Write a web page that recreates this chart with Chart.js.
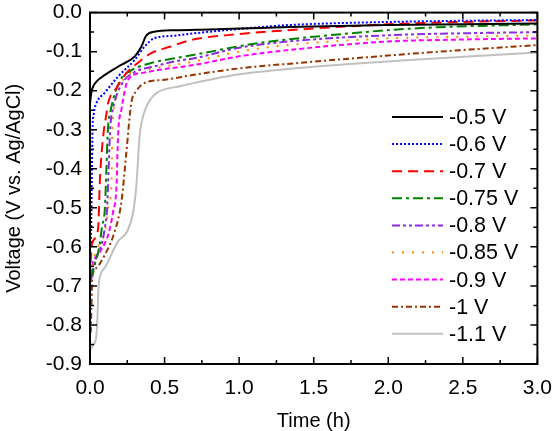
<!DOCTYPE html>
<html>
<head>
<meta charset="utf-8">
<script src="https://cdn.jsdelivr.net/npm/chart.js@4.4.1/dist/chart.umd.min.js"></script>
<style>
  html, body { margin: 0; padding: 0; background: #fff; }
  #wrap { width: 556px; height: 431px; }
</style>
</head>
<body>
<div id="wrap"><canvas id="voltChart"></canvas></div>
<script>
// series names (applied potential)
const seriesLabels = ['-0.5 V', '-0.6 V', '-0.7 V', '-0.75 V', '-0.8 V', '-0.85 V', '-0.9 V', '-1 V', '-1.1 V'];

// time (h) / voltage (V vs. Ag/AgCl)
const t05 = [0, 0.005, 0.015, 0.04, 0.08, 0.19, 0.3, 0.345, 0.375, 0.43, 0.57, 0.8, 1.0, 1.33, 2.0, 2.5, 3.0];
const v05 = [-0.235, -0.215, -0.195, -0.178, -0.165, -0.138, -0.112, -0.087, -0.06, -0.049, -0.045, -0.043, -0.041, -0.037, -0.032, -0.03, -0.028];

const t06 = [0.006, 0.01, 0.013, 0.017, 0.025, 0.04, 0.1, 0.19, 0.3, 0.366, 0.43, 0.57, 0.7, 1.0, 1.33, 2.0, 2.5, 3.0];
const v06 = [-0.59, -0.5, -0.4, -0.3, -0.26, -0.235, -0.205, -0.163, -0.121, -0.087, -0.066, -0.059, -0.053, -0.042, -0.032, -0.024, -0.021, -0.019];

const t07 = [0.004, 0.011, 0.03, 0.055, 0.067, 0.089, 0.11, 0.122, 0.178, 0.244, 0.32, 0.41, 0.54, 0.68, 1.0, 1.33, 2.0, 2.5, 3.0];
const v07 = [-0.64, -0.6, -0.58, -0.55, -0.425, -0.315, -0.26, -0.231, -0.193, -0.155, -0.129, -0.104, -0.087, -0.07, -0.055, -0.045, -0.03, -0.024, -0.02];

const t075 = [0.004, 0.033, 0.065, 0.08, 0.1, 0.11, 0.12, 0.14, 0.2, 0.277, 0.41, 0.566, 0.7, 1.11, 1.55, 2.2, 3.0];
const v075 = [-0.68, -0.644, -0.594, -0.55, -0.5, -0.4, -0.3, -0.248, -0.175, -0.148, -0.129, -0.117, -0.108, -0.079, -0.06, -0.04, -0.03];

const t08 = [0.004, 0.04, 0.08, 0.1, 0.115, 0.125, 0.135, 0.155, 0.21, 0.3, 0.43, 0.566, 0.7, 1.0, 1.33, 2.0, 2.5, 3.0];
const v08 = [-0.69, -0.63, -0.59, -0.55, -0.5, -0.4, -0.3, -0.245, -0.185, -0.152, -0.138, -0.125, -0.117, -0.09, -0.074, -0.058, -0.053, -0.05];

const t085 = [0.004, 0.033, 0.085, 0.11, 0.125, 0.144, 0.15, 0.165, 0.255, 0.366, 0.5, 0.7, 1.0, 1.33, 2.0, 2.5, 3.0];
const v085 = [-0.7, -0.62, -0.58, -0.54, -0.49, -0.44, -0.3, -0.24, -0.159, -0.146, -0.138, -0.125, -0.1, -0.083, -0.066, -0.062, -0.058];

const t09 = [0.003, 0.011, 0.055, 0.1, 0.122, 0.155, 0.178, 0.188, 0.211, 0.255, 0.344, 0.477, 0.7, 1.0, 1.33, 2.0, 2.5, 3.0];
const v09 = [-0.69, -0.654, -0.62, -0.59, -0.569, -0.51, -0.442, -0.315, -0.248, -0.172, -0.155, -0.146, -0.134, -0.112, -0.096, -0.074, -0.069, -0.066];

const t10 = [0.005, 0.01, 0.015, 0.04, 0.1, 0.166, 0.211, 0.244, 0.277, 0.311, 0.366, 0.5, 0.7, 1.0, 1.4, 2.2, 3.0];
const v10 = [-0.82, -0.75, -0.68, -0.655, -0.62, -0.56, -0.484, -0.357, -0.231, -0.201, -0.18, -0.172, -0.159, -0.143, -0.129, -0.104, -0.083];

const t11 = [0.003, 0.015, 0.04, 0.05, 0.055, 0.06, 0.1, 0.188, 0.25, 0.29, 0.311, 0.333, 0.36, 0.4, 0.45, 0.61, 0.7, 1.0, 1.4, 2.2, 3.0];
const v11 = [-0.865, -0.855, -0.835, -0.78, -0.72, -0.69, -0.653, -0.586, -0.56, -0.51, -0.442, -0.315, -0.26, -0.225, -0.205, -0.188, -0.18, -0.158, -0.142, -0.12, -0.102];

const times = [t05, t06, t07, t075, t08, t085, t09, t10, t11];
const volts = [v05, v06, v07, v075, v08, v085, v09, v10, v11];

const colors = ['#000000', '#0000ff', '#ff0000', '#008000', '#8a2be2', '#ff8c00', '#ff00ff', '#993300', '#c0c0c0'];
const dashes = [[], [2, 2], [10, 6], [10, 4, 3, 4], [8, 3, 3, 3, 3, 3], [2, 8], [5, 3], [6, 3, 2, 3], []];

const FONT = 'Liberation Sans, Arial, sans-serif';

const datasets = seriesLabels.map((label, i) => ({
    label: label,
    data: times[i].map((t, k) => ({ x: t, y: volts[i][k] })),
    borderColor: colors[i],
    backgroundColor: colors[i],
    borderDash: dashes[i],
    borderWidth: 2,
    pointRadius: 0,
    cubicInterpolationMode: 'monotone',
    fill: false
}));

// frame with inward ticks on all four sides + legend inside plot
const framePlugin = {
    id: 'frame',
    afterDraw(chart) {
        const ctx = chart.ctx;
        const a = chart.chartArea;
        const xs = chart.scales.x, ys = chart.scales.y;
        ctx.save();
        ctx.strokeStyle = '#000';
        ctx.lineWidth = 2;
        ctx.setLineDash([]);
        ctx.strokeRect(a.left, a.top, a.right - a.left, a.bottom - a.top);
        ctx.lineWidth = 1.5;
        for (let k = 0; k <= 12; k++) {
            const px = xs.getPixelForValue(k * 0.25);
            const len = k % 2 === 0 ? 7 : 4;
            ctx.beginPath();
            ctx.moveTo(px, a.bottom); ctx.lineTo(px, a.bottom - len);
            ctx.moveTo(px, a.top); ctx.lineTo(px, a.top + len);
            ctx.stroke();
        }
        for (let k = 0; k <= 18; k++) {
            const py = ys.getPixelForValue(-k * 0.05);
            const len = k % 2 === 0 ? 7 : 4;
            ctx.beginPath();
            ctx.moveTo(a.left, py); ctx.lineTo(a.left + len, py);
            ctx.moveTo(a.right, py); ctx.lineTo(a.right - len, py);
            ctx.stroke();
        }
        // legend
        ctx.font = '21.5px ' + FONT;
        ctx.textBaseline = 'middle';
        ctx.fillStyle = '#000';
        chart.data.datasets.forEach((ds, i) => {
            const y = 117 + i * 27.1;
            ctx.strokeStyle = ds.borderColor;
            ctx.lineWidth = 2;
            ctx.setLineDash(ds.borderDash);
            ctx.beginPath();
            ctx.moveTo(392, y); ctx.lineTo(443, y);
            ctx.stroke();
            ctx.setLineDash([]);
            ctx.fillText(ds.label, 449, y + 1);
        });
        ctx.restore();
    }
};

new Chart(document.getElementById('voltChart'), {
    type: 'line',
    data: { datasets: datasets },
    options: {
        responsive: true,
        maintainAspectRatio: false,
        animation: false,
        layout: { padding: { top: 9, right: 15, left: 0, bottom: 0 } },
        plugins: { legend: { display: false }, tooltip: { enabled: false } },
        scales: {
            x: {
                type: 'linear',
                min: 0, max: 3,
                grid: { display: false },
                border: { display: false },
                ticks: {
                    stepSize: 0.5,
                    color: '#000',
                    padding: 4,
                    maxRotation: 0,
                    font: { family: FONT, size: 21 },
                    callback: v => v.toFixed(1)
                },
                title: { display: true, text: 'Time (h)', color: '#000', font: { family: FONT, size: 20 }, padding: { top: 0, bottom: -2 } },
                afterFit: s => { s.height = 67; }
            },
            y: {
                type: 'linear',
                min: -0.9, max: 0,
                grid: { display: false },
                border: { display: false },
                ticks: {
                    stepSize: 0.1,
                    color: '#000',
                    padding: 0,
                    font: { family: FONT, size: 21 },
                    callback: v => (Math.abs(v) < 1e-9 ? 0 : v).toFixed(1)
                },
                title: { display: true, text: 'Voltage (V vs. Ag/AgCl)', color: '#000', font: { family: FONT, size: 20 }, padding: { top: 2, bottom: 0 } },
                afterFit: s => { s.width = 90; }
            }
        }
    },
    plugins: [framePlugin]
});
</script>
</body>
</html>
